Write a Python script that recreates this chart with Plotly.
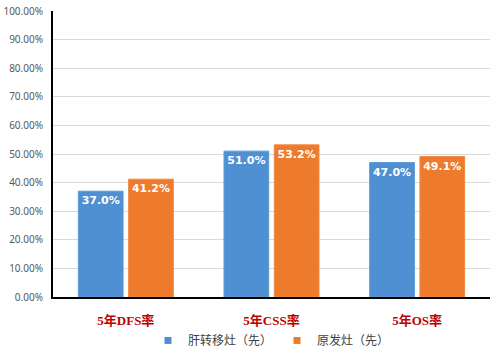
import plotly.graph_objects as go

categories = ["5年DFS率", "5年CSS率", "5年OS率"]
series_names = ["肝转移灶（先）", "原发灶（先）"]
liver_first = [37.0, 51.0, 47.0]
primary_first = [41.2, 53.2, 49.1]
tick_vals = [0, 10, 20, 30, 40, 50, 60, 70, 80, 90, 100]
tick_text = ["%.2f%%" % v for v in tick_vals]

serif = "Liberation Serif, Noto Sans CJK SC, serif"
colors = ["#4F90D3", "#EE7A2C"]

fig = go.Figure()
for name, vals, col, line in [
    (series_names[0], liver_first, colors[0], "#5B9BD5"),
    (series_names[1], primary_first, colors[1], "#F08A45"),
]:
    fig.add_trace(go.Bar(
        x=categories, y=vals, name=name, showlegend=False,
        marker=dict(color=col, line=dict(color=line, width=1)),
        text=["%.1f%%" % v for v in vals],
        textposition="inside", insidetextanchor="end", textangle=0,
        textfont=dict(color="white", size=11, family="DejaVu Sans"),
        texttemplate="<b>%{text}</b>",
        cliponaxis=False,
    ))
for name, col in zip(series_names, colors):
    fig.add_trace(go.Scatter(
        x=[None], y=[None], mode="markers", name=name,
        marker=dict(symbol="square", size=7, color=col),
        showlegend=True,
    ))

fig.update_layout(
    width=500, height=353,
    margin=dict(l=53, r=10, t=11, b=56, autoexpand=False),
    paper_bgcolor="white", plot_bgcolor="white",
    barmode="group", bargap=0.31, bargroupgap=0.11,
    showlegend=True,
    legend=dict(orientation="h", x=0.5, xanchor="center",
                y=-0.152, yanchor="middle", bgcolor="rgba(0,0,0,0)",
                font=dict(family=serif, size=12, color="#404040"),
                itemwidth=30, traceorder="normal", tracegroupgap=0),
    xaxis=dict(
        tickmode="array", tickvals=categories,
        ticktext=["<b>%s</b>" % c for c in categories],
        tickfont=dict(family=serif, size=13, color="#C00000"),
        showline=True, linecolor="black", linewidth=2,
        ticks="", showgrid=False, ticklabelstandoff=10,
    ),
    yaxis=dict(
        range=[0, 100], tickmode="array", tickvals=tick_vals, ticktext=tick_text,
        tickfont=dict(family="Noto Sans", size=10, color="#595959"),
        showline=True, linecolor="black", linewidth=2,
        gridcolor="#D9D9D9", gridwidth=1, zeroline=False, ticks="",
        ticklabelstandoff=6,
    ),
)

fig.write_html("out.html")
